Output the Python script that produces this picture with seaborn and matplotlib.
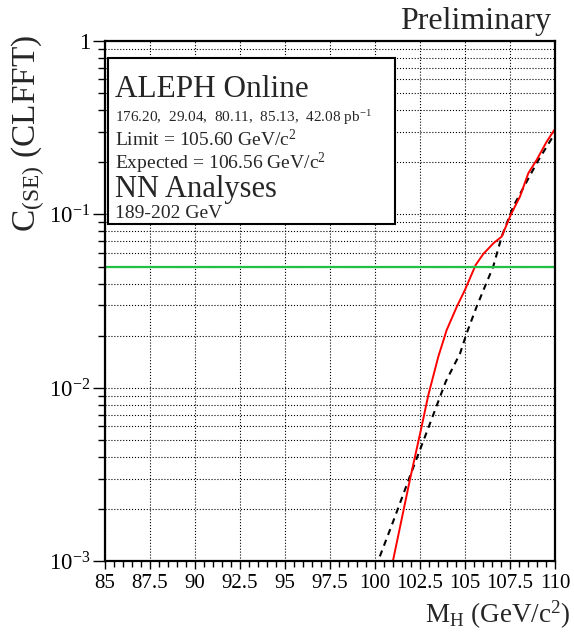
import matplotlib
matplotlib.use('Agg')
import matplotlib.pyplot as plt
import pandas as pd
import seaborn as sns
from matplotlib.patches import Rectangle
from matplotlib.ticker import FixedLocator, LogLocator, MultipleLocator, NullFormatter

mass_obs = [101.0, 101.96, 102.6, 102.97, 103.52, 103.99, 104.55, 105.0, 105.6,
            106.02, 106.58, 107.04, 107.54, 108.06, 108.52, 108.98, 109.54, 110.0]
cl_obs = [0.0010, 0.0030, 0.0060, 0.0091, 0.0151, 0.0216, 0.0294, 0.0367, 0.0512,
          0.0592, 0.0682, 0.0745, 0.0993, 0.127, 0.173, 0.206, 0.263, 0.311]

mass_exp = [100.28, 101.0, 102.0, 103.0, 103.94, 104.73, 105.1, 105.65, 106.11,
            106.57, 107.04, 107.68, 109.02, 110.0]
cl_exp = [0.00107, 0.00168, 0.0032, 0.0060, 0.0109, 0.0158, 0.0207, 0.0294, 0.0384,
          0.050, 0.0745, 0.111, 0.201, 0.294]

cl_level = 0.05

x_ticks = [85, 87.5, 90, 92.5, 95, 97.5, 100, 102.5, 105, 107.5, 110]
x_tick_labels = ['85', '87.5', '90', '92.5', '95', '97.5', '100', '102.5', '105', '107.5', '110']
y_ticks = [1e-3, 1e-2, 1e-1, 1]
y_tick_labels = [r'$10^{-3}$', r'$10^{-2}$', r'$10^{-1}$', '1']

obs = pd.DataFrame({'mass': mass_obs, 'cl': cl_obs})
exp = pd.DataFrame({'mass': mass_exp, 'cl': cl_exp})

sns.set_style('ticks')
plt.rcParams['font.family'] = ['Liberation Serif', 'DejaVu Serif']
plt.rcParams['mathtext.fontset'] = 'custom'
plt.rcParams['mathtext.rm'] = 'Liberation Serif'
plt.rcParams['mathtext.it'] = 'Liberation Serif:italic'

fig = plt.figure(figsize=(5.74, 6.34), dpi=100)
ax = fig.add_axes([0.1821, 0.1144, 0.7848, 0.821])

sns.lineplot(data=exp, x='mass', y='cl', color='black', lw=1.5, linestyle=(0, (3, 2.5)),
             sort=False, ax=ax)
sns.lineplot(data=obs, x='mass', y='cl', color='red', lw=1.4, sort=False, ax=ax)
ax.axhline(cl_level, color='#22c045', lw=1.6)

ax.set_yscale('log')
ax.set_xlim(85, 110)
ax.set_ylim(1e-3, 1)
ax.set_xlabel('')
ax.set_ylabel('')

ax.xaxis.set_major_locator(FixedLocator(x_ticks))
ax.set_xticklabels(x_tick_labels)
ax.xaxis.set_minor_locator(MultipleLocator(0.5))
ax.yaxis.set_major_locator(FixedLocator(y_ticks))
ax.set_yticklabels(y_tick_labels)
ax.yaxis.set_minor_locator(LogLocator(base=10, subs=[2, 3, 4, 5, 6, 7, 8, 9]))
ax.yaxis.set_minor_formatter(NullFormatter())

ax.grid(which='major', axis='both', linestyle=':', color='black', lw=0.8)
ax.grid(which='minor', axis='y', linestyle=':', color='black', lw=0.8)

ax.tick_params(axis='both', which='both', direction='out', top=False, right=False,
               colors='black')
ax.tick_params(axis='x', which='major', length=6, width=1, pad=3, labelsize=15)
ax.tick_params(axis='x', which='minor', length=4, width=1)
ax.tick_params(axis='y', which='major', length=9, width=1, pad=1, labelsize=16.5)
ax.tick_params(axis='y', which='minor', length=5, width=1)
for s in ax.spines.values():
    s.set_linewidth(1.6)
    s.set_color('black')

# info box
ax.add_patch(Rectangle((0.0078, 0.648), 0.637, 0.319, transform=ax.transAxes,
                       facecolor='white', edgecolor='black', lw=1.5, zorder=5))

W, H = 574.0, 634.0
tx = 115 / W
fig.text(tx, 1 - 97.3 / H, 'ALEPH Online', fontsize=22.5, va='baseline')
fig.text(tx, 1 - 121.7 / H, r'176.20,  29.04,  80.11,  85.13,  42.08 pb$^{-1}$',
         fontsize=11, va='baseline')
fig.text(tx, 1 - 145.7 / H, r'Limit = 105.60 GeV/c$^{2}$', fontsize=14, va='baseline')
fig.text(tx, 1 - 169.3 / H, r'Expected = 106.56 GeV/c$^{2}$', fontsize=14, va='baseline')
fig.text(tx, 1 - 196.7 / H, 'NN Analyses', fontsize=22, va='baseline')
fig.text(tx, 1 - 218.3 / H, '189-202 GeV', fontsize=14, va='baseline')

fig.text(551 / W, 1 - 29 / H, 'Preliminary', fontsize=23, ha='right', va='baseline')
fig.text(570 / W, 1 - 623 / H, r'M$_{\mathrm{H}}$ (GeV/c$^{2}$)', fontsize=19.5,
         ha='right', va='baseline')
fig.text(28 / W, 1 - 133 / H, r'C$_{\mathrm{(SE)}}$ (CLFFT)', fontsize=24,
         rotation=90, ha='center', va='center')

fig.savefig('out.png', dpi=100)
